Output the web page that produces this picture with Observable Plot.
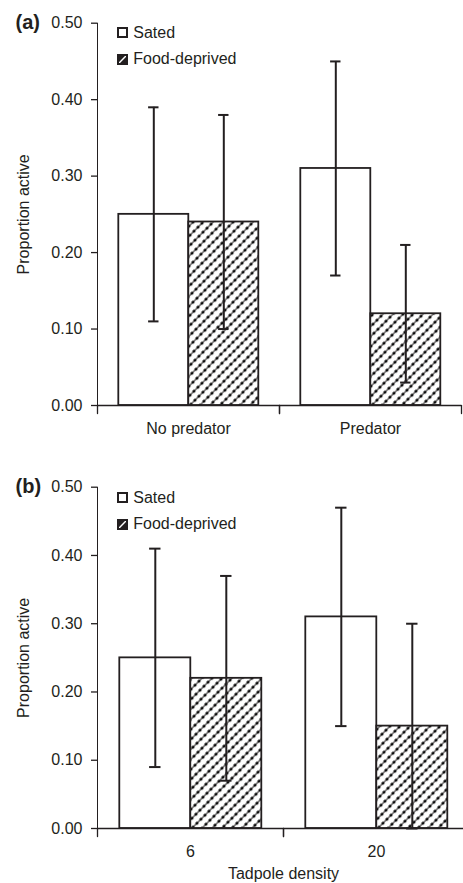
<!DOCTYPE html>
<html>
<head>
<meta charset="utf-8">
<script src="https://cdn.jsdelivr.net/npm/d3@7"></script>
<script src="https://cdn.jsdelivr.net/npm/@observablehq/plot@0.6"></script>
<style>
  html, body { margin: 0; padding: 0; background: #fff; width: 463px; height: 883px; overflow: hidden; }
  #wrap { position: relative; width: 463px; height: 883px; }
  .panel { position: absolute; left: 0; }
  .tag { position: absolute; left: 15.5px; font: bold 20px "Liberation Sans", Arial, sans-serif; color: #231f20; line-height: 20px; }
  .lgwrap { position: absolute; left: 118.3px; }
  .lg-swatches { font-family: "Liberation Sans", Arial, sans-serif !important; font-size: 16px !important; color: #231f20; margin: 0 !important; }
  .lg-swatch { height: 26.3px; padding: 0 !important; display: flex; align-items: center; }
  .lg-swatch > svg { margin-right: 6px !important; overflow: visible; }
  .lg-swatch rect { stroke: #231f20; stroke-width: 2px; }
  .lg-swatch-label { line-height: normal; }
  svg [aria-label="y-axis tick"], svg [aria-label="y-axis line"] { stroke-width: 1.3px; }
</style>
</head>
<body>
<svg width="0" height="0" style="position:absolute">
  <defs>
    <pattern id="hatch" patternUnits="userSpaceOnUse" width="5.66" height="7.07" patternTransform="rotate(-45)">
      <rect width="5.66" height="7.07" fill="white"/>
      <rect x="0" y="3.0" width="5.66" height="1.0" fill="#231f20"/>
      <rect x="0.5" y="2.2" width="2.6" height="2.6" fill="#000"/>
    </pattern>
    <pattern id="lg-hatch" patternContentUnits="objectBoundingBox" width="1" height="1">
      <rect width="1" height="1" fill="#231f20"/>
      <path d="M0.12,0.88L0.88,0.12" stroke="white" stroke-width="0.16"/>
    </pattern>
  </defs>
</svg>
<div id="wrap"></div>
<script>
// ---- data ----
const seriesNames = ["Sated", "Food-deprived"];
const yTicks = [0, 0.1, 0.2, 0.3, 0.4, 0.5];

// panel (a): predator treatment
const aCats = ["No predator", "Predator"];
const aSated = [0.25, 0.31];
const aSatedLo = [0.11, 0.17];
const aSatedHi = [0.39, 0.45];
const aFood = [0.24, 0.12];
const aFoodLo = [0.10, 0.03];
const aFoodHi = [0.38, 0.21];

// panel (b): tadpole density
const bCats = ["6", "20"];
const bSated = [0.25, 0.31];
const bSatedLo = [0.09, 0.15];
const bSatedHi = [0.41, 0.47];
const bFood = [0.22, 0.15];
const bFoodLo = [0.07, 0.00];
const bFoodHi = [0.37, 0.30];

const INK = "#231f20";
const FONT = "Liberation Sans, Arial, sans-serif";

function rows(cats, s, sLo, sHi, f, fLo, fHi) {
  return cats.flatMap((c, i) => [
    {cat: c, series: seriesNames[0], value: s[i], lo: sLo[i], hi: sHi[i]},
    {cat: c, series: seriesNames[1], value: f[i], lo: fLo[i], hi: fHi[i]}
  ]);
}

const tickShape = {draw(context, l) { context.moveTo(0, 0); context.lineTo(0, -l); }};

function panel({data, cats, height, marginTop, marginBottom, marginRight, xLabel}) {
  return Plot.plot({
    width: 463, height, marginTop, marginBottom, marginLeft: 96.7, marginRight,
    style: {fontFamily: FONT, fontSize: "16px", color: INK, background: "white", overflow: "hidden"},
    fx: {domain: cats, padding: 0, label: xLabel, labelAnchor: "center", labelArrow: "none", labelOffset: 50, tickSize: 0, tickPadding: 17.5, axis: "bottom"},
    x: {domain: seriesNames, paddingInner: 0, paddingOuter: 0.3, axis: null},
    y: {domain: [0, 0.5], ticks: yTicks, tickFormat: d3.format(".2f"), tickSize: 6, tickPadding: 9, line: true,
        label: "Proportion active", labelAnchor: "center", labelArrow: "none", labelOffset: 80},
    color: {domain: seriesNames, range: ["white", "url(#hatch)"]},
    marks: [
      Plot.barY(data, {fx: "cat", x: "series", y: "value", fill: "series", stroke: INK, strokeWidth: 1.8}),
      Plot.ruleX(data, {fx: "cat", x: "series", y1: "lo", y2: "hi", stroke: INK, strokeWidth: 2}),
      Plot.tickY(data, {fx: "cat", x: "series", y: "hi", stroke: INK, strokeWidth: 2, insetLeft: 29.8, insetRight: 29.8}),
      Plot.tickY(data, {fx: "cat", x: "series", y: "lo", stroke: INK, strokeWidth: 2, insetLeft: 29.8, insetRight: 29.8}),
      Plot.ruleY([0], {stroke: INK, strokeWidth: 1.3}),
      Plot.vector([0], {frameAnchor: "bottom-left", length: 8, rotate: 180, anchor: "start", shape: tickShape, stroke: INK, strokeWidth: 1.3}),
      Plot.vector([0], {frameAnchor: "bottom-right", length: 8, rotate: 180, anchor: "start", shape: tickShape, stroke: INK, strokeWidth: 1.3})
    ]
  });
}

function legend() {
  return Plot.legend({
    color: {type: "ordinal", domain: seriesNames, range: ["white", "url(#lg-hatch)"]},
    columns: 1, swatchSize: 9, className: "lg"
  });
}

const wrap = document.getElementById("wrap");

function addPanel(top, opts, tag, legendTop) {
  const div = document.createElement("div");
  div.className = "panel";
  div.style.top = top + "px";
  div.appendChild(panel(opts));
  wrap.appendChild(div);
  const t = document.createElement("div");
  t.className = "tag";
  t.style.top = (top + opts.marginTop - 10.3) + "px";
  t.textContent = tag;
  wrap.appendChild(t);
  const lw = document.createElement("div");
  lw.className = "lgwrap";
  lw.style.top = legendTop + "px";
  lw.appendChild(legend());
  wrap.appendChild(lw);
}

addPanel(0, {data: rows(aCats, aSated, aSatedLo, aSatedHi, aFood, aFoodLo, aFoodHi), cats: aCats,
  height: 445, marginTop: 22.7, marginBottom: 40, marginRight: 1.3, xLabel: null}, "(a)", 19.6);
addPanel(445, {data: rows(bCats, bSated, bSatedLo, bSatedHi, bFood, bFoodLo, bFoodHi), cats: bCats,
  height: 438, marginTop: 41.7, marginBottom: 55, marginRight: -5.7, xLabel: "Tadpole density"}, "(b)", 484.6);
</script>
</body>
</html>
